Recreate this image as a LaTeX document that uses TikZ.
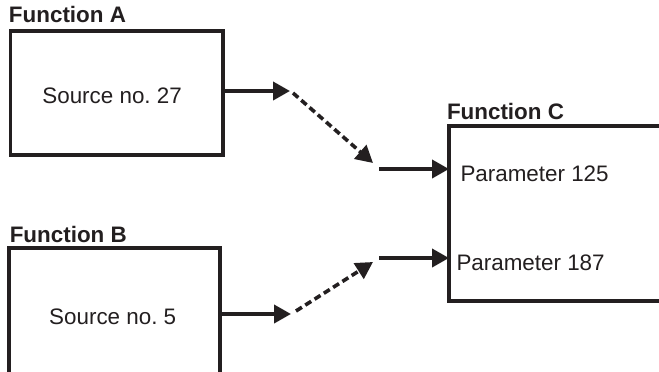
\documentclass[tikz,border=0pt]{standalone}
\usepackage{fontspec}
\setmainfont{Liberation Sans}
\usetikzlibrary{arrows.meta,calc}
\definecolor{ink}{RGB}{35,31,32}
\frenchspacing
\begin{document}
\begin{tikzpicture}[x=1pt,y=-1pt,
  box/.style={draw=ink,line width=3.6pt,inner sep=0pt,outer sep=0pt},
  title/.style={anchor=base west,inner sep=0pt,font=\fontsize{22.4}{26}\selectfont\bfseries,text=ink},
  txt/.style={anchor=base west,inner sep=0pt,font=\fontsize{22.4}{26}\selectfont,text=ink},
  solidarrow/.style={draw=ink,line width=3.8pt,-{Triangle[length=17pt,width=18pt]}},
  dasharrow/.style={draw=ink,line width=3.6pt,dash pattern=on 7pt off 4pt,-{Triangle[length=17pt,width=18pt]}}]
\clip (0,0) rectangle (659,372);
\fill[white] (0,0) rectangle (659,372);
% boxes
\node[box,minimum width=212.4pt,minimum height=124pt] (A) at (116.5,93) {};
\node[box,minimum width=211.3pt,minimum height=140pt] (B) at (114.35,318) {};
\node[box,minimum width=230pt,minimum height=175pt] (C) at (564,213.5) {};
% titles
\node[title] (tA) at (8.8,23) {Function A};
\node[title] (tB) at (9.6,242) {Function B};
\node[title] (tC) at (446.8,119) {Function C};
% inner texts
\node[txt] (sA) at (42.2,103.3) {Source no.\ 27};
\node[txt] (sB) at (49,324) {Source no.\ 5};
\node[txt] (p1) at (460.3,181.7) {Parameter 125};
\node[txt] (p2) at (456.3,270) {Parameter 187};
% connector coordinates
\coordinate (a1) at (290,91);
\coordinate (a2) at (293,93);
\coordinate (a3) at (373,163);
\coordinate (a4) at (379,169);
\coordinate (b1) at (291,314);
\coordinate (b2) at (296,311);
\coordinate (b3) at (373,262);
\coordinate (b4) at (379,258);
% connectors
\draw[solidarrow] (A.east |- a1) -- (a1);
\draw[dasharrow] (a2) -- (a3);
\draw[solidarrow] (a4) -- (C.west |- a4);
\draw[solidarrow] (B.east |- b1) -- (b1);
\draw[dasharrow] (b2) -- (b3);
\draw[solidarrow] (b4) -- (C.west |- b4);
\end{tikzpicture}
\end{document}
